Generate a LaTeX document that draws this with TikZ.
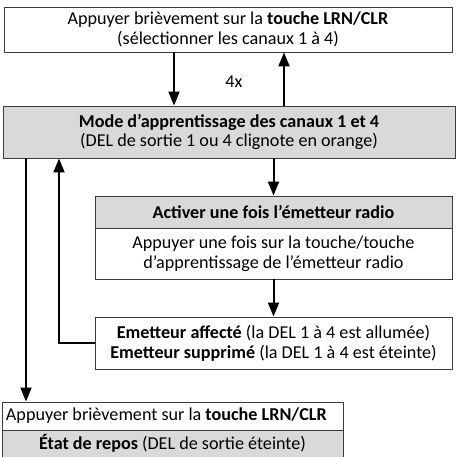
\documentclass[tikz,border=0pt]{standalone}
\usepackage{fontspec}
\setmainfont{Carlito}
\usetikzlibrary{arrows.meta}
\definecolor{boxgray}{RGB}{217,217,217}
\definecolor{edgegray}{RGB}{60,60,60}
\tikzset{
    box/.style={draw=edgegray, line width=0.9pt, fill=white, inner sep=0pt,
                align=center, font=\fontsize{18.2}{20}\selectfont},
    shaded/.style={box, fill=boxgray},
    flow/.style={-{Triangle[length=14bp, width=11bp]}, line width=2pt},
}

\begin{document}
\begin{tikzpicture}[x=1bp, y=-1bp]

    \useasboundingbox (0,0) rectangle (457,457);

    \node[box, minimum width=448bp, minimum height=45bp] (select) at (228,29.5)
        {Appuyer brièvement sur la \textbf{touche LRN/CLR}\\(sélectionner les canaux 1 à 4)};
    \node[shaded, minimum width=452bp, minimum height=52bp] (mode) at (229,132)
        {\textbf{Mode d’apprentissage des canaux 1 et 4}\\(DEL de sortie 1 ou 4 clignote en orange)};
    \node[shaded, minimum width=357bp, minimum height=32bp] (acthead) at (273.5,212)
        {\textbf{Activer une fois l’émetteur radio}};
    \node[box, minimum width=357bp, minimum height=51bp] (actbody) at (273.5,253.5)
        {Appuyer une fois sur la touche/touche\\d’apprentissage de l’émetteur radio};
    \node[box, minimum width=357bp, minimum height=52bp] (result) at (273.5,343)
        {\textbf{Emetteur affecté} (la DEL 1 à 4 est allumée)\\\textbf{Emetteur supprimé} (la DEL 1 à 4 est éteinte)};
    \node[box, minimum width=341bp, minimum height=28bp, text width=333bp, align=flush left] (resttop) at (172.5,416)
        {Appuyer brièvement sur la \textbf{touche LRN/CLR}};
    \node[shaded, minimum width=341bp, minimum height=27bp] (rest) at (172.5,443.5)
        {\textbf{État de repos} (DEL de sortie éteinte)};

    \coordinate (down) at (174,0);
    \coordinate (up) at (284,0);
    \coordinate (back) at (59,0);
    \coordinate (exit) at (26,0);

    \draw[flow] (select.south -| down) -- (mode.north -| down);
    \draw[flow] (mode.north -| up) -- (select.south -| up);
    \node[font=\fontsize{18.2}{20}\selectfont] (count) at (234,82) {4x};
    \draw[flow] (mode.south -| acthead) -- (acthead.north);
    \draw[flow] (actbody.south) -- (result.north);
    \draw[flow] (result.west) -| (mode.south -| back);
    \draw[flow] (mode.south -| exit) -- (resttop.north -| exit);

\end{tikzpicture}
\end{document}
